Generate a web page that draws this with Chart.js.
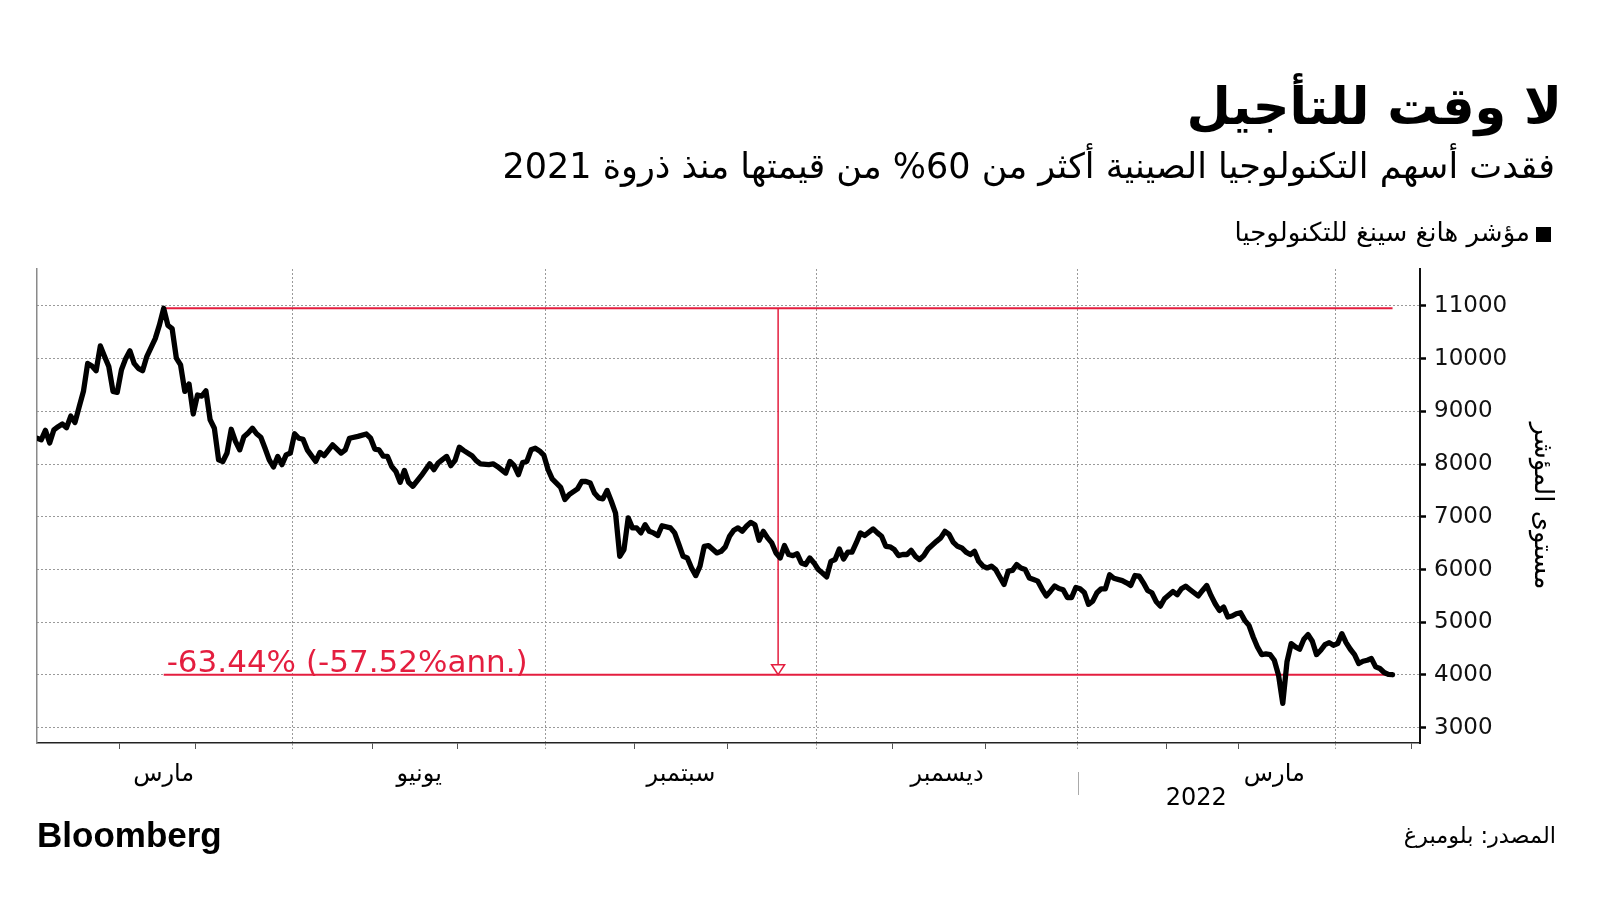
<!DOCTYPE html>
<html lang="ar">
<head>
<meta charset="utf-8">
<script src="https://cdn.jsdelivr.net/npm/chart.js@4.4.1/dist/chart.umd.min.js"></script>
<style>
html,body{margin:0;padding:0;background:#fff;width:1600px;height:900px;overflow:hidden;}
#wrap{position:relative;width:1600px;height:900px;}
#c{position:absolute;left:0;top:0;}
.t{position:absolute;direction:rtl;white-space:nowrap;font-family:"DejaVu Sans",sans-serif;color:#000;line-height:1;}
#title{right:38px;top:81px;font-size:51px;font-weight:bold;}
#subtitle{right:45px;top:149px;font-size:35px;}
#legend{right:70px;top:219px;font-size:26px;}
#legsq{position:absolute;left:1536px;top:227px;width:15px;height:15px;background:#000;}
#source{right:44px;top:824px;font-size:22.4px;}
#logo{position:absolute;left:37px;top:817px;font-family:"Liberation Sans",Arial,sans-serif;font-weight:bold;font-size:35px;line-height:1;letter-spacing:0;color:#000;}
</style>
</head>
<body>
<div id="wrap">
<canvas id="c" width="1600" height="900"></canvas>
<div class="t" id="title">لا وقت للتأجيل</div>
<div class="t" id="subtitle">فقدت أسهم التكنولوجيا الصينية أكثر من 60% من قيمتها منذ ذروة 2021</div>
<div id="legsq"></div>
<div class="t" id="legend">مؤشر هانغ سينغ للتكنولوجيا</div>
<div class="t" id="source">المصدر: بلومبرغ</div>
<div id="logo">Bloomberg</div>
</div>
<script>
// ---- data (trading-day index from 4 Jan 2021, index level) ----
const tradingDay = [
 0,1,2,3,4,5,6,7,8,9,10,11,12,13,14,15,16,17,18,19,
 20,21,22,23,24,25,26,27,28,29,30,31,32,33,34,35,36,37,38,39,
 40,41,42,43,44,45,46,47,48,49,50,51,52,53,54,55,56,57,58,59,
 60,61,62,63,64,66,67,68,70,72,73,74,76,78,79,80,81,82,83,84,
 85,86,87,88,89,91,93,94,95,96,97,98,99,100,101,103,104,105,107,108,
 109,111,112,113,114,115,116,117,118,119,120,121,122,123,124,125,126,128,129,130,
 131,132,133,134,135,136,137,138,139,140,141,142,143,144,145,146,147,148,150,151,
 152,153,154,155,156,157,158,159,161,162,163,164,165,166,167,168,169,170,171,172,
 173,174,175,176,177,178,179,180,181,182,183,184,185,186,187,188,189,190,191,192,
 193,194,195,196,198,199,200,201,202,203,204,205,206,207,208,209,210,211,213,214,
 215,216,217,218,219,220,221,222,223,224,225,226,227,229,230,231,232,233,234,235,
 236,237,238,239,240,241,242,243,244,245,246,247,248,249,250,251,252,253,254,255,
 257,258,259,260,261,262,263,264,265,266,267,269,270,271,272,273,274,275,276,277,
 278,279,280,281,282,283,284,285,286,287,288,289,290,291,292,293,294,295,296,297,
 298,299,300,301,302,303,304,305,306,307,308,309,310,311,312,313,314,315,316,317,
 318,319,320,321
];
const indexLevel = [
 8490,8460,8640,8400,8650,8710,8760,8690,8910,8790,9090,9380,9910,9860,9770,10240,10040,9850,9380,9360,
 9790,10000,10150,9910,9815,9770,10040,10210,10380,10640,10955,10630,10570,10010,9880,9380,9520,8950,9310,9290,
 9390,8840,8680,8080,8050,8210,8660,8430,8270,8520,8590,8680,8575,8510,8300,8080,7945,8145,7990,8175,
 8210,8575,8490,8470,8270,8050,8220,8160,8365,8210,8270,8490,8525,8570,8490,8285,8270,8150,8145,7955,
 7860,7655,7880,7655,7580,7780,8005,7895,8020,8085,8145,7970,8070,8320,8260,8160,8065,8005,7990,8005,
 7955,7830,8050,7970,7800,8030,8050,8270,8300,8250,8170,7900,7720,7640,7560,7330,7420,7530,7670,7670,
 7640,7450,7360,7340,7500,7295,7070,6250,6380,6980,6790,6790,6695,6850,6725,6695,6645,6830,6790,6695,
 6475,6250,6220,6030,5885,6065,6440,6455,6315,6345,6430,6630,6745,6790,6725,6820,6895,6850,6555,6725,
 6600,6505,6315,6220,6455,6285,6265,6300,6125,6095,6220,6125,6000,5935,5860,6155,6190,6390,6200,6330,
 6330,6505,6695,6645,6770,6695,6630,6440,6430,6380,6265,6285,6285,6365,6250,6190,6265,6390,6535,6600,
 6725,6665,6515,6440,6410,6330,6285,6345,6155,6065,6030,6065,6000,5715,5970,5985,6095,6030,6000,5840,
 5810,5780,5630,5500,5590,5690,5640,5615,5470,5470,5660,5635,5565,5340,5400,5560,5635,5635,5900,5835,
 5790,5748,5698,5887,5874,5748,5603,5559,5395,5307,5446,5584,5521,5635,5685,5622,5560,5500,5603,5698,
 5509,5351,5225,5288,5099,5118,5162,5181,5036,4941,4721,4532,4387,4400,4387,4280,3996,3461,4248,4595,
 4532,4488,4677,4765,4639,4387,4469,4576,4614,4563,4595,4784,4614,4488,4387,4217,4261,4280,4311,4154,
 4122,4047,4010,4005
];
// first trading day (index) of each month, Feb 2021 .. May 2022
const monthStartDay = [20,38,61,80,100,121,142,164,185,203,225,247,268,285,308,326];
// first trading day of each quarter, Q1 2021 .. Q2 2022
const quarterStartDay = [0,61,121,185,247,308];
const quarterLabels = ['مارس','يونيو','سبتمبر','ديسمبر','مارس'];
const yearLabel = '2022';
const yMajorTicks = [3000,4000,5000,6000,7000,8000,9000,10000,11000];
const yMinorTicks = [3500,4500,5500,6500,7500,8500,9500,10500];
const seriesName = 'مؤشر هانغ سينغ للتكنولوجيا';
const yTitle = 'مستوى المؤشر';
const changeLabel = '-63.44% (-57.52%ann.)';

// ---- derived ----
const RED = '#e41e3f';
const peakLevel = Math.max(...indexLevel);
const peakDay = tradingDay[indexLevel.indexOf(peakLevel)];
const lastDay = tradingDay[tradingDay.length - 1];
const lastLevel = indexLevel[indexLevel.length - 1];
const midDay = (peakDay + lastDay) / 2;

const boundaryTicks = monthStartDay.map(d => d - 0.5);
const quarterBounds = new Set(quarterStartDay.slice(1).map(d => d - 0.5));
const labelMap = new Map();
for (let q = 0; q < 4; q++) {
  labelMap.set((quarterStartDay[q] - 0.5 + quarterStartDay[q + 1] - 0.5) / 2, quarterLabels[q]);
}
// latest quarter: month name just after the March boundary, year under the quarter
labelMap.set(monthStartDay[13] - 0.5 + 8.5, quarterLabels[4]);
labelMap.set((quarterStartDay[4] - 0.5 + quarterStartDay[5] - 0.5) / 2 - 2.5, ['', yearLabel]);
const xTickValues = boundaryTicks.concat([...labelMap.keys()]).sort((a, b) => a - b);

const annotate = {
  id: 'annotate',
  afterDatasetsDraw(chart) {
    const {ctx, scales: {x, y}, chartArea} = chart;
    const xm = x.getPixelForValue(midDay);
    const yl = y.getPixelForValue(lastLevel);
    ctx.save();
    // arrow head
    ctx.beginPath();
    ctx.moveTo(xm, yl);
    ctx.lineTo(xm - 6.5, yl - 10);
    ctx.lineTo(xm + 6.5, yl - 10);
    ctx.closePath();
    ctx.fillStyle = '#fff';
    ctx.fill();
    ctx.strokeStyle = RED;
    ctx.lineWidth = 1.5;
    ctx.stroke();
    // change label
    ctx.font = '31px "DejaVu Sans"';
    ctx.fillStyle = RED;
    ctx.textAlign = 'left';
    ctx.textBaseline = 'alphabetic';
    ctx.fillText(changeLabel, x.getPixelForValue(peakDay) + 3, yl - 3);
    // year separator
    const xs = Math.round(x.getPixelForValue(quarterStartDay[4] - 0.5)) + 0.5;
    ctx.beginPath();
    ctx.moveTo(xs, chartArea.bottom + 29);
    ctx.lineTo(xs, chartArea.bottom + 52);
    ctx.strokeStyle = '#aaa';
    ctx.lineWidth = 1;
    ctx.stroke();
    ctx.restore();
  }
};

Chart.defaults.font.family = '"DejaVu Sans", sans-serif';
Chart.defaults.color = '#000';

new Chart(document.getElementById('c'), {
  type: 'line',
  data: {
    datasets: [
      {label: seriesName, data: tradingDay.map((d, i) => ({x: d, y: indexLevel[i]})),
       borderColor: '#000', borderWidth: 5.3, pointRadius: 0, tension: 0,
       borderJoinStyle: 'round', borderCapStyle: 'round', order: 0},
      {label: 'peak', data: [{x: peakDay, y: peakLevel}, {x: lastDay, y: peakLevel}],
       borderColor: RED, borderWidth: 2, pointRadius: 0, order: 1},
      {label: 'last', data: [{x: peakDay, y: lastLevel}, {x: lastDay, y: lastLevel}],
       borderColor: RED, borderWidth: 2, pointRadius: 0, order: 1},
      {label: 'drop', data: [{x: midDay, y: peakLevel}, {x: midDay, y: lastLevel}],
       borderColor: RED, borderWidth: 1.5, pointRadius: 0, order: 1}
    ]
  },
  options: {
    responsive: false,
    animation: false,
    events: [],
    layout: {padding: {left: 37, top: 269, right: 0, bottom: 67}},
    plugins: {legend: {display: false}, tooltip: {enabled: false}},
    scales: {
      x: {
        type: 'linear', min: 0, max: 327.5,
        afterBuildTicks: s => { s.ticks = xTickValues.map(v => ({value: v})); },
        afterFit: s => { s.height = 90; },
        ticks: {
          autoSkip: false, maxRotation: 0, minRotation: 0, padding: 14,
          font: {size: 24, lineHeight: 1.0}, color: '#000',
          callback: v => labelMap.has(v) ? labelMap.get(v) : ''
        },
        grid: {
          drawOnChartArea: true,
          color: c => (c.tick && quarterBounds.has(c.tick.value)) ? '#9a9a9a' : 'rgba(0,0,0,0)',
          lineWidth: 1,
          tickLength: 6,
          tickColor: c => {
            if (!c.tick) return 'rgba(0,0,0,0)';
            if (labelMap.has(c.tick.value)) return 'rgba(0,0,0,0)';
            return quarterBounds.has(c.tick.value) ? '#9a9a9a' : '#555';
          },
          tickBorderDash: c => (c.tick && quarterBounds.has(c.tick.value)) ? [2, 2] : [],
          tickWidth: 1
        },
        border: {display: true, color: '#222', width: 1.5, dash: [2, 2]}
      },
      y: {
        type: 'linear', position: 'right', min: 2710, max: 11700,
        afterBuildTicks: s => { s.ticks = yMajorTicks.concat(yMinorTicks).sort((a, b) => a - b).map(v => ({value: v})); },
        afterFit: s => { s.width = 180; },
        ticks: {
          padding: 8, font: {size: 23}, color: '#111',
          callback: v => yMajorTicks.includes(v) ? String(v) : ''
        },
        grid: {
          color: c => (c.tick && yMajorTicks.includes(c.tick.value)) ? '#9a9a9a' : 'rgba(0,0,0,0)',
          lineWidth: 1,
          tickLength: 6,
          tickColor: c => (c.tick && yMajorTicks.includes(c.tick.value)) ? '#000' : '#444',
          tickWidth: c => (c.tick && yMajorTicks.includes(c.tick.value)) ? 2.5 : 1
        },
        border: {display: true, color: '#111', width: 2, dash: [2, 2]},
        title: {display: true, text: yTitle, font: {size: 26}, color: '#000', padding: {top: 43, bottom: 0}}
      },
      yL: {
        type: 'linear', position: 'left', display: true,
        ticks: {display: false},
        grid: {display: false, drawTicks: false},
        border: {display: true, color: '#8a8a8a', width: 1.5},
        afterFit: s => { s.width = 0; }
      }
    }
  },
  plugins: [annotate]
});
</script>
</body>
</html>
